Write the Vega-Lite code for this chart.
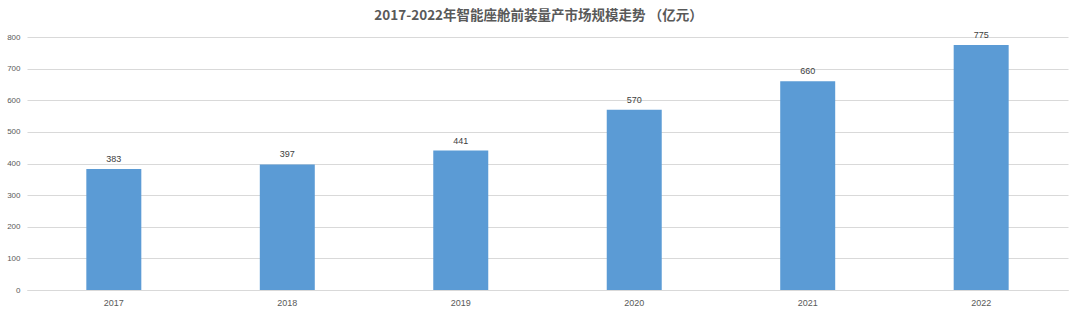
{
  "$schema": "https://vega.github.io/schema/vega-lite/v6.json",
  "autosize": {"type": "none"},
  "width": 1041,
  "height": 253,
  "padding": {"left": 27, "top": 37, "right": 12, "bottom": 24},
  "background": "white",
  "config": {"view": {"stroke": null}, "font": "Noto Sans CJK SC"},
  "title": {
    "text": "2017-2022年智能座舱前装量产市场规模走势 （亿元）",
    "fontSize": 13.5,
    "fontWeight": "bold",
    "color": "#595959",
    "font": "Noto Sans CJK SC",
    "anchor": "middle",
    "dx": -9,
    "offset": 8
  },
  "data": {
    "values": [
      {"year": "2017", "value": 383},
      {"year": "2018", "value": 397},
      {"year": "2019", "value": 441},
      {"year": "2020", "value": 570},
      {"year": "2021", "value": 660},
      {"year": "2022", "value": 775}
    ]
  },
  "encoding": {
    "x": {
      "field": "year",
      "type": "ordinal",
      "scale": {"paddingInner": 0.683, "paddingOuter": 0.342},
      "axis": {
        "title": null,
        "labelAngle": 0,
        "labelFontSize": 9,
        "labelColor": "#595959",
        "labelFont": "Liberation Sans",
        "domainColor": "#d9d9d9",
        "ticks": false,
        "labelPadding": 8
      }
    },
    "y": {
      "field": "value",
      "type": "quantitative",
      "scale": {"domain": [0, 800]},
      "axis": {
        "title": null,
        "values": [0, 100, 200, 300, 400, 500, 600, 700, 800],
        "labelOverlap": false,
        "labelFontSize": 8,
        "labelColor": "#595959",
        "labelFont": "Liberation Sans",
        "domain": false,
        "ticks": false,
        "gridColor": "#d9d9d9",
        "labelPadding": 7
      }
    }
  },
  "layer": [
    {"mark": {"type": "bar", "color": "#5B9BD5"}},
    {
      "mark": {"type": "text", "dy": -10, "fontSize": 9, "color": "#404040", "font": "Liberation Sans"},
      "encoding": {"text": {"field": "value", "type": "quantitative"}}
    }
  ]
}
